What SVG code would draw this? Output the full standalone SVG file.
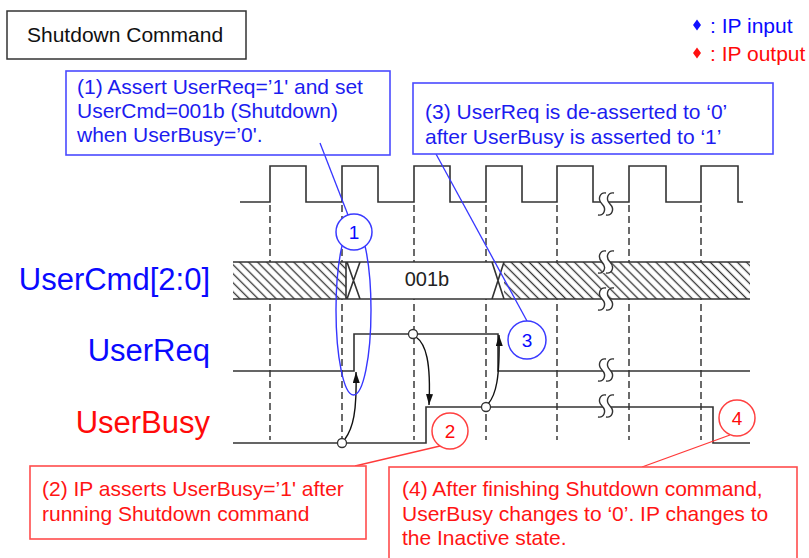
<svg xmlns="http://www.w3.org/2000/svg" width="809" height="558" viewBox="0 0 809 558">
<style>
  text { font-family: "Liberation Sans", Arial, sans-serif; }
  .wave { fill: none; stroke: #333; stroke-width: 1.6; }
  .grid { fill: none; stroke: #6a6a6a; stroke-width: 2; stroke-dasharray: 7 4; }
  .box { fill: #fff; stroke-width: 1.6; }
  .bbox { stroke: #4a4aff; }
  .rbox { stroke: #ff4d4d; }
  .tbox { fill: #fff; stroke: #333; stroke-width: 1.5; }
  .btxt { fill: #1c1cf0; font-size: 21px; }
  .rtxt { fill: #ff1414; font-size: 21px; }
  .sig { font-size: 31px; text-anchor: end; }
  .blue { fill: #0a0aff; }
  .red { fill: #ff0a0a; }
  .brk-fill { fill: #fff; stroke: none; }
  .brk-line { fill: none; stroke: #333; stroke-width: 1.4; }
  .dot { fill: #fff; stroke: #333; stroke-width: 1.3; }
  .arr { fill: none; stroke: #111; stroke-width: 1.4; marker-end: url(#ah); }
  .lead-b { stroke: #3636ff; stroke-width: 1.3; }
  .lead-r { stroke: #ff3a3a; stroke-width: 1.3; }
  .cb { fill: #fff; stroke: #3a3aff; stroke-width: 1.5; }
  .cr { fill: #fff; stroke: #ff4040; stroke-width: 1.5; }
  .num { font-size: 19px; text-anchor: middle; }
</style>
<defs>
  <pattern id="hatch" patternUnits="userSpaceOnUse" width="6.4" height="10" patternTransform="rotate(-45)">
    <rect width="6.4" height="10" fill="#fff"/>
    <line x1="3.2" y1="0" x2="3.2" y2="10" stroke="#333" stroke-width="1.3"/>
  </pattern>
  <marker id="ah" viewBox="0 0 11 7" refX="11" refY="3.5" markerWidth="11" markerHeight="7" markerUnits="userSpaceOnUse" orient="auto">
    <path d="M0,0 L11,3.5 L0,7 Z" fill="#111"/>
  </marker>
  <!-- time-break mark: two S strokes with a white gap between them -->
  <g id="brk">
    <path class="brk-fill" d="M0,-11 C-6,-12 -9,-5 -4,0 C1,5 -2,12 -8,11 L0,11 C6,12 9,5 4,0 C-1,-5 2,-12 8,-11 Z"/>
    <path class="brk-line" d="M0,-11 C-6,-12 -9,-5 -4,0 C1,5 -2,12 -8,11 M8,-11 C2,-12 -1,-5 4,0 C9,5 6,12 0,11"/>
  </g>
</defs>

<!-- title -->
<g id="title">
  <rect class="tbox" x="7" y="11" width="239" height="48"/>
  <text x="27" y="42" font-size="21" fill="#111">Shutdown Command</text>
</g>

<!-- legend -->
<g id="legend">
  <polygon points="697,19.5 701,25 697,30.5 693,25" fill="#1010ff"/>
  <text x="710" y="33" font-size="21" class="blue">: IP input</text>
  <polygon points="697,47.5 701,53 697,58.5 693,53" fill="#ff1010"/>
  <text x="710" y="61" font-size="21" class="red">: IP output</text>
</g>

<!-- clock-edge grid -->
<g id="grid">
  <path class="grid" d="M270,205 V440 M342,205 V440 M414,205 V440 M486,205 V440 M557,205 V440 M629,205 V440 M701,205 V440"/>
</g>

<!-- signal names -->
<g id="labels">
  <text class="sig blue" x="210" y="290">UserCmd[2:0]</text>
  <text class="sig blue" x="210" y="361">UserReq</text>
  <text class="sig red" x="210" y="433">UserBusy</text>
</g>

<!-- clock -->
<g id="clk">
  <path class="wave" d="M240,202 H270 V166 H306 V202 H342 V166 H378 V202 H414 V166 H450 V202 H486 V166 H522 V202 H557 V166 H593 V202 H629 V166 H666 V202 H701 V166 H738 V202 H743"/>
  <use href="#brk" x="606" y="204"/>
</g>

<!-- UserCmd bus -->
<g id="usercmd">
  <rect x="233" y="262" width="113" height="37" fill="url(#hatch)"/>
  <rect x="346" y="262" width="158" height="37" fill="#fff"/>
  <rect x="504" y="262" width="246" height="37" fill="url(#hatch)"/>
  <path class="wave" d="M233,262 H750 M233,299 H750 M346,262 V299 M347,262 L360,299 M347,299 L360,262 M492,262 L504,299 M492,299 L504,262"/>
  <text x="427" y="286" text-anchor="middle" font-size="20" fill="#222">001b</text>
  <use href="#brk" x="606" y="262"/>
  <use href="#brk" x="606" y="299"/>
</g>

<!-- UserReq -->
<g id="userreq">
  <path class="wave" d="M233,371 H354 V334 H498 V371 H750"/>
  <use href="#brk" x="606" y="370"/>
</g>

<!-- UserBusy -->
<g id="userbusy">
  <path class="wave" d="M233,443 H426 V407 H713 V443 H750"/>
  <use href="#brk" x="606" y="406"/>
</g>

<!-- causality arrows and leader lines -->
<g id="connectors">
  <path class="arr" d="M345,439 C353,428 357,412 356,372"/>
  <path class="arr" d="M416,337 C426,344 431,362 429,405"/>
  <path class="arr" d="M488,404 C496,395 500,378 499,335"/>
  <circle class="dot" cx="342" cy="443" r="4.5"/>
  <circle class="dot" cx="413" cy="334" r="4.5"/>
  <circle class="dot" cx="486" cy="407" r="4.5"/>
  <ellipse cx="353.5" cy="310" rx="17.5" ry="85" fill="none" stroke="#3636ff" stroke-width="1.4"/>
  <line class="lead-b" x1="320" y1="143" x2="348" y2="215"/>
  <line class="lead-b" x1="436" y1="154" x2="527" y2="321"/>
  <line class="lead-r" x1="355" y1="466" x2="440" y2="446"/>
  <line class="lead-r" x1="642" y1="467" x2="730" y2="435"/>
</g>

<!-- step markers -->
<g id="mark1">
  <circle class="cb" cx="354" cy="232" r="18"/>
  <text class="num blue" x="354" y="239">1</text>
</g>
<g id="mark2">
  <circle class="cr" cx="450" cy="431" r="18"/>
  <text class="num red" x="450" y="438">2</text>
</g>
<g id="mark3">
  <circle class="cb" cx="527" cy="340" r="19"/>
  <text class="num blue" x="527" y="347">3</text>
</g>
<g id="mark4">
  <circle class="cr" cx="737" cy="418" r="18"/>
  <text class="num red" x="737" y="425">4</text>
</g>

<!-- notes -->
<g id="note1">
  <rect class="box bbox" x="66" y="71" width="324" height="84" fill-opacity="0"/>
  <text class="btxt" x="77" y="94">(1) Assert UserReq=’1' and set</text>
  <text class="btxt" x="77" y="118">UserCmd=001b (Shutdown)</text>
  <text class="btxt" x="77" y="142">when UserBusy=’0'.</text>
</g>
<g id="note3">
  <rect class="box bbox" x="413" y="83" width="360" height="71"/>
  <text class="btxt" x="425" y="119">(3) UserReq is de-asserted to ‘0’</text>
  <text class="btxt" x="425" y="144">after UserBusy is asserted to ‘1’</text>
</g>
<g id="note2">
  <rect class="box rbox" x="30" y="466" width="336" height="73"/>
  <text class="rtxt" x="42" y="496">(2) IP asserts UserBusy=’1' after</text>
  <text class="rtxt" x="42" y="521">running Shutdown command</text>
</g>
<g id="note4">
  <rect class="box rbox" x="389" y="467" width="408" height="100"/>
  <text class="rtxt" x="402" y="496">(4) After finishing Shutdown command,</text>
  <text class="rtxt" x="402" y="520.5">UserBusy changes to ‘0’. IP changes to</text>
  <text class="rtxt" x="402" y="545">the Inactive state.</text>
</g>
</svg>
